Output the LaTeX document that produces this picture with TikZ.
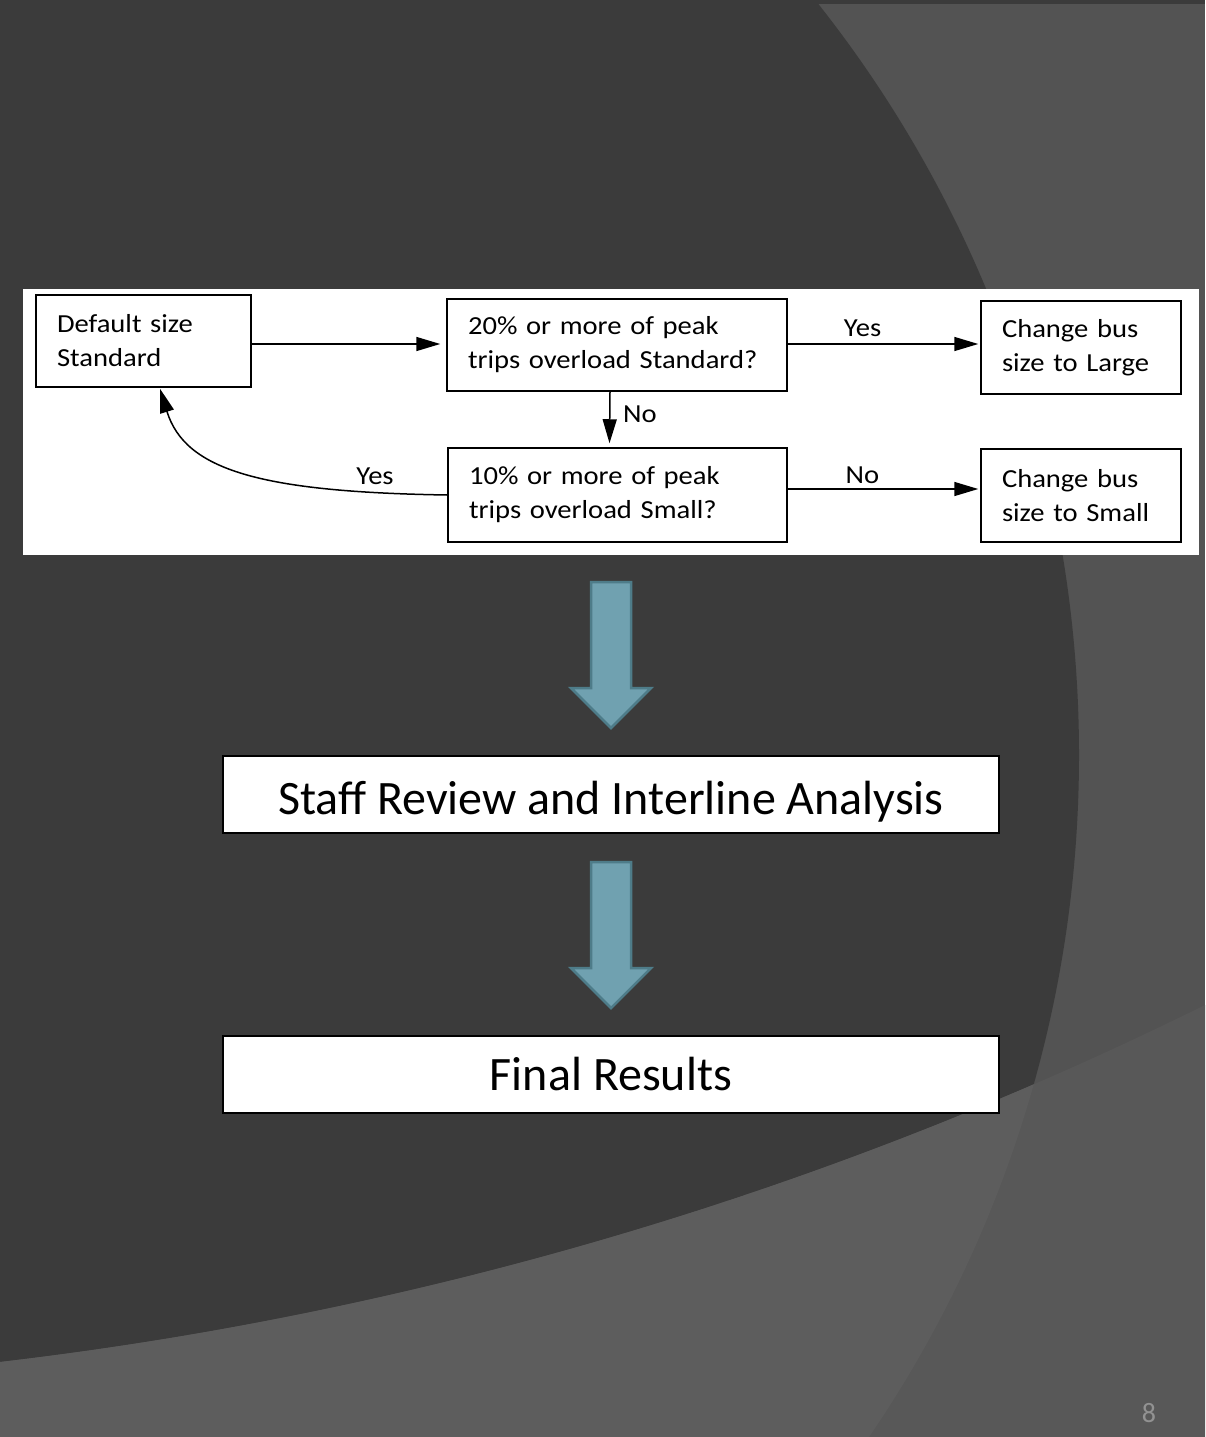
\documentclass[tikz,border=0pt]{standalone}
\usepackage{fontspec}
\setmainfont{Carlito}
\newfontfamily\flowfont{Carlito}[FakeStretch=1.1,WordSpace=0.6]
\usetikzlibrary{arrows.meta,calc}
\definecolor{slidedark}{HTML}{3B3B3B}
\definecolor{greyB}{HTML}{535353}
\definecolor{greyC}{HTML}{5D5D5D}
\definecolor{greyD}{HTML}{585858}
\definecolor{arrowfill}{RGB}{112,161,176}
\definecolor{arrowedge}{RGB}{78,124,137}
\definecolor{pagenum}{HTML}{929292}
\begin{document}
\begin{tikzpicture}[x=1pt,y=-1pt,
  flowbox/.style={draw=black,line width=1.5pt,fill=white,rectangle,align=left,
    inner xsep=21pt,inner ysep=0pt,font=\flowfont\fontsize{26}{34}\selectfont},
  flowlabel/.style={font=\flowfont\fontsize{26}{34}\selectfont,inner sep=0pt,anchor=base},
  flowarrow/.style={line width=1.5pt,-{Triangle[length=24pt,width=14pt]}},
  bigbox/.style={draw=black,line width=2.2pt,fill=white,minimum width=776pt,
    minimum height=77pt,inner ysep=0pt,font=\fontsize{48}{56}\selectfont},
  blockarrow/.style={fill=arrowfill,draw=arrowedge,line width=2.5pt,line join=miter}]
\useasboundingbox (0,0) rectangle (1205,1437);
% background
\fill[greyB] (0,0) rectangle (1205,1437);
\begin{scope}
  \clip (-133,755) circle[radius=1212pt];
  \fill[slidedark] (0,0) rectangle (1205,1437);
\end{scope}
\fill[greyD] (0,1362) .. controls (419,1313) and (827,1192) .. (1205,1005) -- (1205,1437) -- (0,1437) -- cycle;
\begin{scope}
  \clip (-133,755) circle[radius=1212pt];
  \fill[greyC] (0,1362) .. controls (419,1313) and (827,1192) .. (1205,1005) -- (1205,1437) -- (0,1437) -- cycle;
\end{scope}
\fill[slidedark] (0,0) rectangle (1205,4);
% white panel
\node[fill=white,minimum width=1176pt,minimum height=266pt,inner sep=0pt] (panel) at (611,422) {};
% flowchart boxes
\node[flowbox,text width=173pt,minimum width=215pt,minimum height=92pt] (b1) at (143.5,341) {Default size\\Standard};
\node[flowbox,text width=298pt,minimum width=340pt,minimum height=92pt] (b2) at (617,345) {20\% or more of peak\\trips overload Standard?};
\node[flowbox,text width=297pt,minimum width=339pt,minimum height=94pt] (b3) at (617.5,495) {10\% or more of peak\\trips overload Small?};
\node[flowbox,text width=158pt,minimum width=200pt,minimum height=93pt] (b4) at (1081,347.5) {Change bus\\size to Large};
\node[flowbox,text width=158pt,minimum width=200pt,minimum height=93pt] (b5) at (1081,495.5) {Change bus\\size to Small};
% connectors
\draw[flowarrow] ($(b1.east)+(0,3)$) -- ($(b2.west)+(-6,-1)$);
\draw[flowarrow] ($(b2.east)+(0,-1)$) -- ($(b4.west)+(-2,-3.5)$);
\draw[flowarrow] ($(b2.south)+(-7,0)$) -- ($(b3.north)+(-8,-4)$);
\draw[flowarrow] ($(b3.east)+(0,-6)$) -- ($(b5.west)+(-2,-6.5)$);
\draw[flowarrow] (b3.west) .. controls (260,492) and (185,470) .. ($(b1.south)+(16.5,1)$);
% labels
\node[flowlabel] (lyes1) at (862.5,336.7) {Yes};
\node[flowlabel] (lno1) at (640,422.3) {No};
\node[flowlabel] (lno2) at (862.5,483.3) {No};
\node[flowlabel] (lyes2) at (375,484.3) {Yes};
% big boxes
\node[bigbox,text height=45pt,text depth=6pt] (staff) at (611,794.5) {Staff Review and Interline Analysis};
\node[bigbox,text height=38.4pt,text depth=6pt] (final) at (611,1074.5) {Final Results};
% block arrows
\filldraw[blockarrow] (591,582) -- (631,582) -- (631,688) -- (651,688) -- (611,728) -- (571,688) -- (591,688) -- cycle;
\filldraw[blockarrow] (591,862) -- (631,862) -- (631,968) -- (651,968) -- (611,1008) -- (571,968) -- (591,968) -- cycle;
% page number
\node[font=\fontsize{28}{30}\selectfont,text=pagenum,anchor=base,inner sep=0pt] (pg) at (1149,1422.7) {8};
\end{tikzpicture}
\end{document}
